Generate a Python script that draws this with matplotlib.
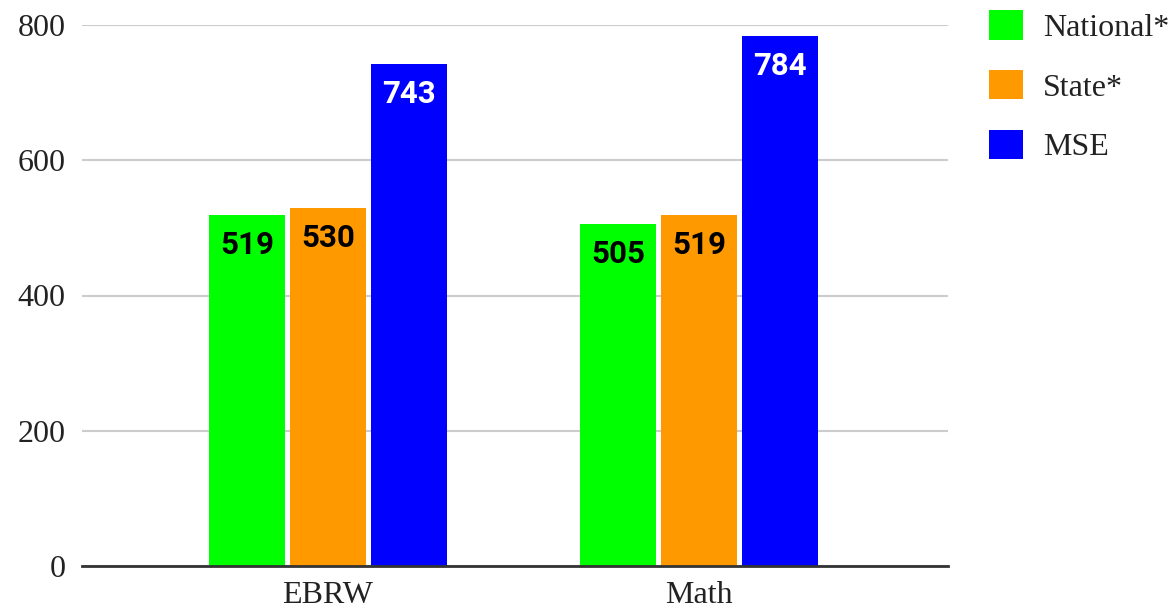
import numpy as np
import matplotlib
matplotlib.use('Agg')
import matplotlib.pyplot as plt

categories = ['EBRW', 'Math']
series_names = ['National*', 'State*', 'MSE']
national = [519, 505]
state = [530, 519]
mse = [743, 784]

colors = ['#00ff00', '#ff9900', '#0000ff']
label_colors = ['black', 'black', 'white']

fig = plt.figure(figsize=(11.73, 6.11), dpi=100)
ax = fig.add_axes([82 / 1173, 45 / 611, 866 / 1173, 541 / 611])

x = np.arange(len(categories))
bar_width = 0.205
step = 0.218

for i, (name, vals) in enumerate(zip(series_names, [national, state, mse])):
    xs = x + (i - 1) * step
    bars = ax.bar(xs, vals, bar_width, color=colors[i], label=name, zorder=3)
    for b, v in zip(bars, vals):
        ax.annotate(str(v), (b.get_x() + b.get_width() / 2, v),
                    xytext=(0, -30), textcoords='offset pixels',
                    ha='center', va='center', fontsize=22.5, fontweight='bold',
                    family='Roboto', color=label_colors[i], zorder=4)

ax.set_ylim(0, 800)
ax.set_xlim(-0.663, 1.671)
ax.set_yticks([0, 200, 400, 600, 800])
ax.set_xticks(x)
ax.set_xticklabels(categories)

for lab in ax.get_xticklabels() + ax.get_yticklabels():
    lab.set_family('Liberation Serif')
    lab.set_fontsize(23)
    lab.set_color('#222222')

ax.tick_params(axis='both', length=0)
ax.tick_params(axis='y', pad=12)
ax.tick_params(axis='x', pad=11)
ax.grid(axis='y', color='#cccccc', linewidth=1.5, zorder=0)
for s in ['top', 'right', 'left']:
    ax.spines[s].set_visible(False)
ax.spines['bottom'].set_color('#333333')
ax.spines['bottom'].set_linewidth(2)
ax.spines['bottom'].set_zorder(5)

leg = ax.legend(loc='upper left', bbox_to_anchor=(989 / 1173, 1 - 10 / 611),
                bbox_transform=fig.transFigure, frameon=False,
                prop={'family': 'Liberation Serif', 'size': 23},
                handlelength=1.05, handleheight=1.05, handletextpad=0.65,
                labelspacing=0.85, borderaxespad=0, borderpad=0)
for t in leg.get_texts():
    t.set_color('#222222')

fig.savefig('out.png', dpi=100)
